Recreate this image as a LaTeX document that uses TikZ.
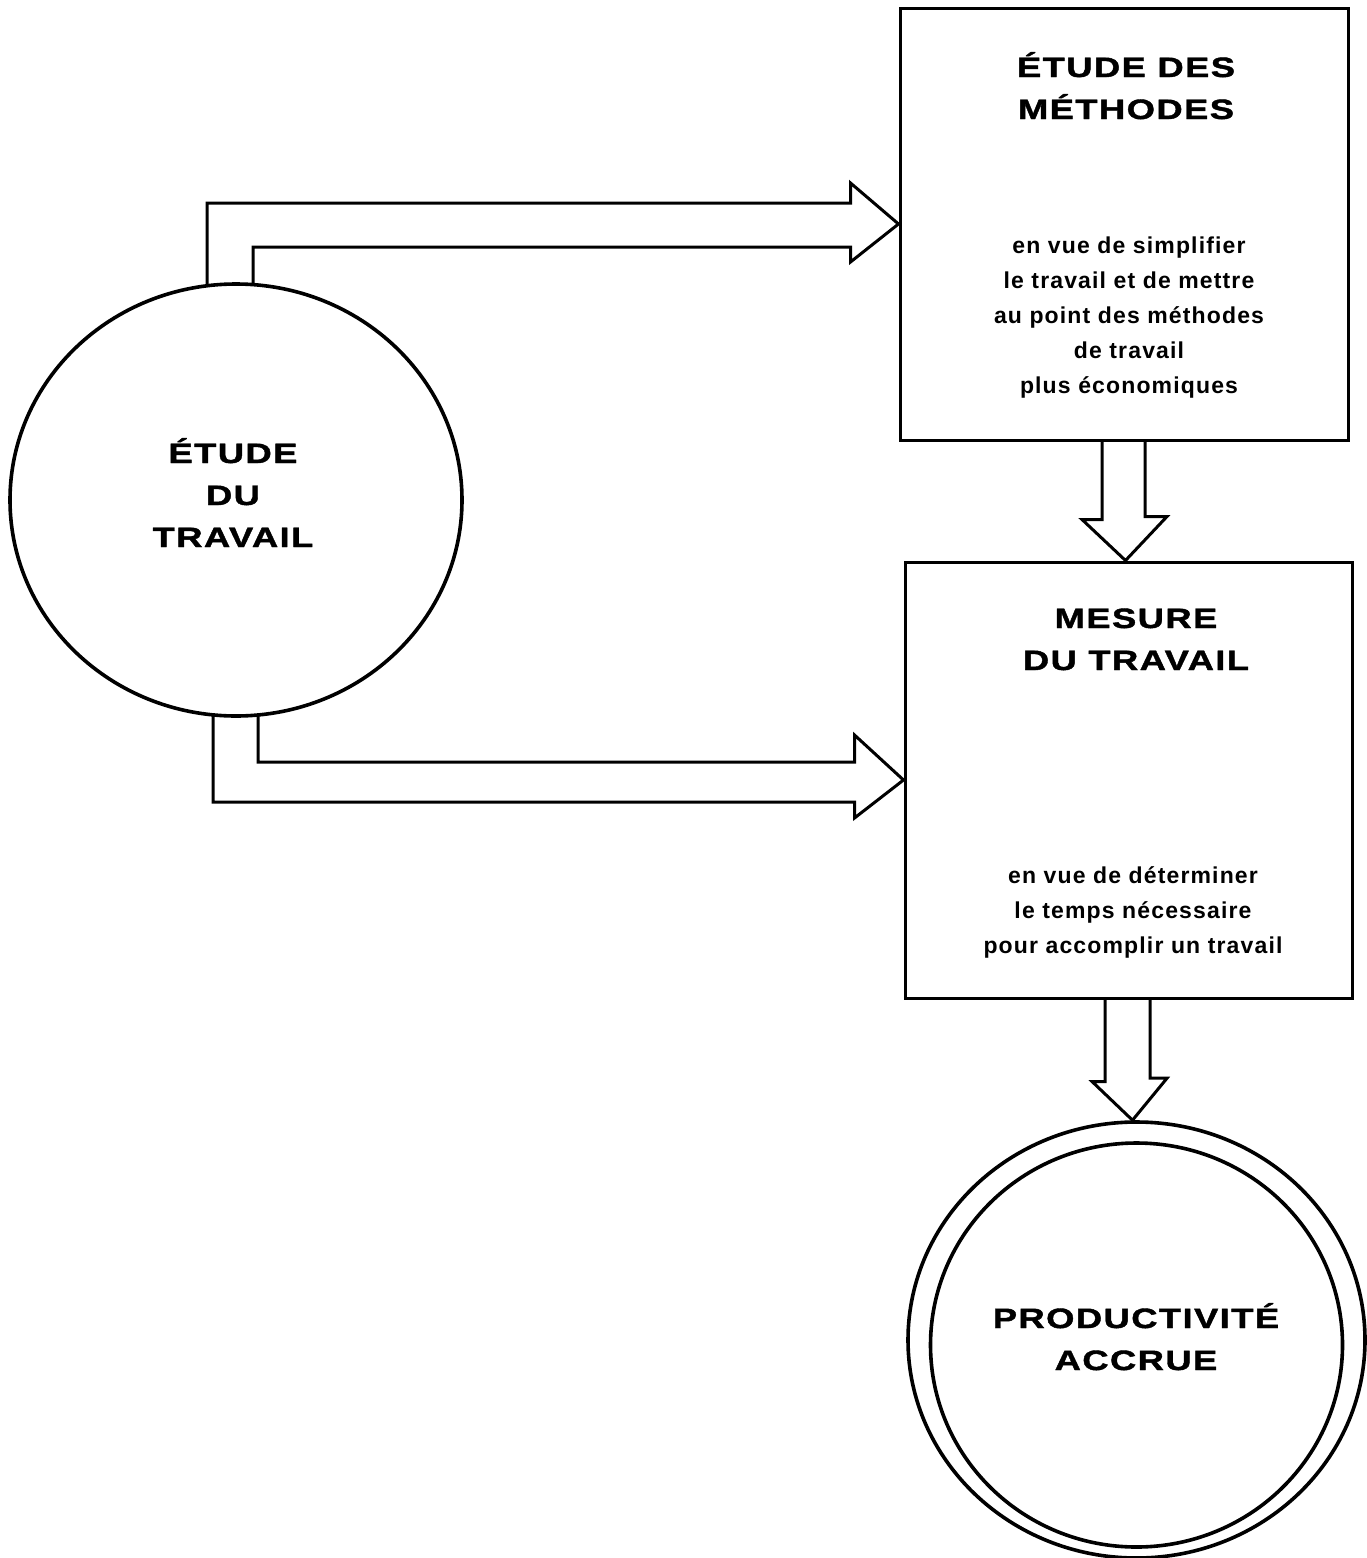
\documentclass[tikz,border=0pt]{standalone}
\usepackage{fontspec}
\usetikzlibrary{shapes.geometric,calc,backgrounds}

% Wide, heavy capitals for the headings; plainer spaced text for the notes
\newfontfamily\titlefont[FakeStretch=1.3,LetterSpace=5,FakeBold=1.5]{Liberation Sans}
\newfontfamily\notefont[LetterSpace=5]{Liberation Sans}

\newcommand\titleblock[1]{{\titlefont\bfseries\fontsize{14}{21}\selectfont
  \setlength\tabcolsep{0pt}\begin{tabular}[t]{c}#1\end{tabular}}}
\newcommand\noteblock[1]{{\notefont\bfseries\fontsize{11.5}{17.5}\selectfont
  \setlength\tabcolsep{0pt}\begin{tabular}[t]{c}#1\end{tabular}}}

\begin{document}
\begin{tikzpicture}[x=0.5pt,y=-0.5pt,
  box/.style={draw, rectangle, fill=white, inner sep=0pt, line width=1.5pt},
  bubble/.style={draw, ellipse, fill=white, inner sep=0pt, line width=1.8pt},
  flow/.style={draw, line width=1.5pt, line join=miter},
  label/.style={inner sep=0pt, anchor=base}]
\useasboundingbox (0,0) rectangle (1366,1558);

% Main shapes
\node[box, minimum width=224pt, minimum height=216pt] (methodes) at (1124,224) {};
\node[box, minimum width=223.5pt, minimum height=218pt] (mesure) at (1128.5,780) {};
\node[bubble, minimum width=226pt, minimum height=216pt] (etude) at (236,500) {};
\node[bubble, minimum width=228.5pt, minimum height=218pt] (prod) at (1136.5,1340) {};
\node[bubble, minimum width=206pt, minimum height=202pt] (prodin) at (1136.5,1345) {};

% Texts
\node[label] (etudetxt) at (233,463) {\titleblock{ÉTUDE\\DU\\TRAVAIL}};
\node[label] (methtxt) at (1126,77) {\titleblock{ÉTUDE DES\\MÉTHODES}};
\node[label] (methnote) at (1129,253) {\noteblock{en vue de simplifier\\le travail et de mettre\\au point des méthodes\\de travail\\plus économiques}};
\node[label] (mestxt) at (1136,628) {\titleblock{MESURE\\DU TRAVAIL}};
\node[label] (mesnote) at (1133,883) {\noteblock{en vue de déterminer\\le temps nécessaire\\pour accomplir un travail}};
\node[label] (prodtxt) at (1136,1328) {\titleblock{PRODUCTIVITÉ\\ACCRUE}};

% Hollow block arrows, kept behind the shapes
\begin{scope}[on background layer]
  % work study -> method study
  \draw[flow] ($(etude.north)+(-29,20)$) |- ($(methodes.west)+(-48,-21)$)
    -- ++(0,-20) -- (methodes.west) -- ++(-48,38) -- ++(0,-15)
    -| ($(etude.north)+(17,20)$);
  % work study -> work measurement
  \draw[flow] ($(etude.south)+(22,-20)$) |- ($(mesure.west)+(-49,-18)$)
    -- ++(0,-27) -- (mesure.west) -- ++(-49,38) -- ++(0,-16)
    -| ($(etude.south)+(-23,-20)$);
  % method study -> work measurement
  \draw[flow] ($(methodes.south)+(-22,-5)$) -- ++(0,83) -- ++(-20,0)
    -- ($(mesure.north)+(-3,0)$) -- ++(41.5,-44) -- ++(-22,0) -- ++(0,-83);
  % work measurement -> higher productivity
  \draw[flow] ($(mesure.south)+(-23.5,-5)$) -- ++(0,87) -- ++(-13,0)
    -- ($(prod.north)+(-4,0)$) -- ++(34.5,-42) -- ++(-17,0) -- ++(0,-87);
\end{scope}
\end{tikzpicture}
\end{document}
